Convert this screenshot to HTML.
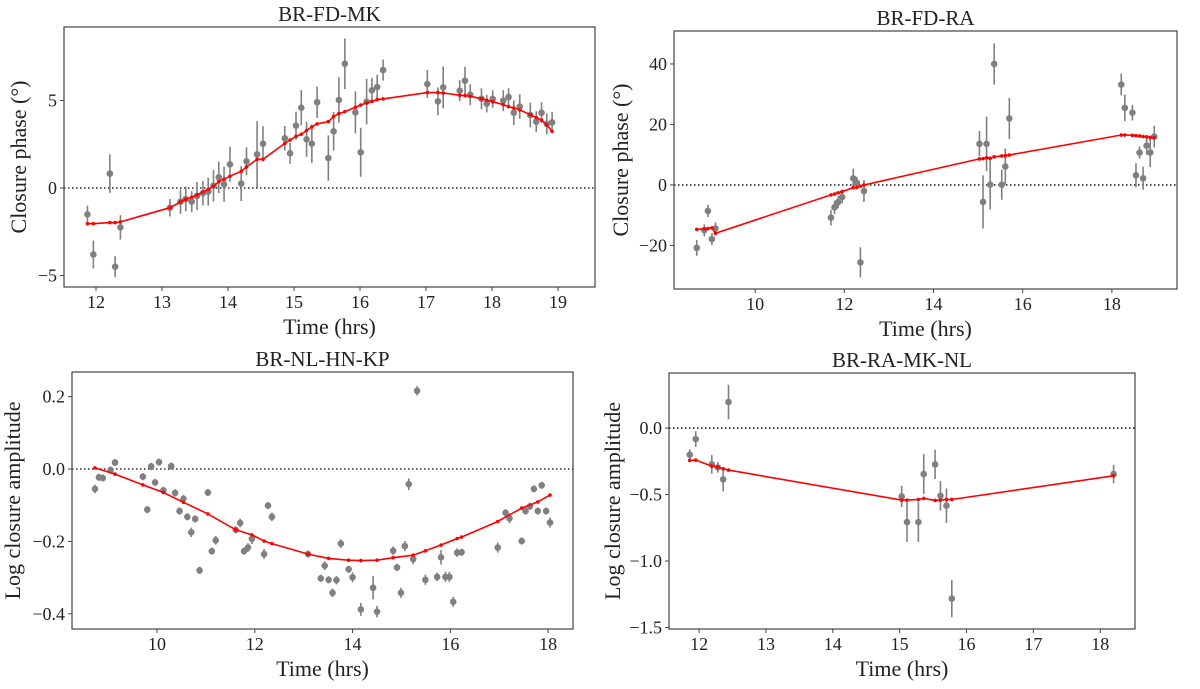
<!DOCTYPE html>
<html><head><meta charset="utf-8"><style>
body{margin:0;background:#fff;}
svg text{font-family:"Liberation Serif",serif;fill:#222;}
</style></head><body>
<svg id="fig" width="1200" height="684" xmlns="http://www.w3.org/2000/svg"></svg>
<script>
// Panel 1: BR-FD-MK
const p1Times=[11.87,11.96,12.21,12.29,12.37,13.12,13.28,13.36,13.45,13.53,13.62,13.70,13.78,13.86,13.94,14.03,14.20,14.28,14.44,14.53,14.86,14.94,15.03,15.11,15.19,15.27,15.35,15.52,15.60,15.68,15.77,15.93,16.01,16.10,16.18,16.26,16.35,17.02,17.18,17.26,17.51,17.59,17.67,17.84,17.92,18.01,18.17,18.25,18.33,18.42,18.58,18.67,18.75,18.83,18.91];
const p1Values=[-1.51,-3.8,0.82,-4.5,-2.25,-1.13,-0.78,-0.63,-0.78,-0.46,-0.30,-0.21,0.13,0.61,0.21,1.35,0.25,1.52,1.92,2.53,2.84,1.98,3.56,4.59,2.78,2.53,4.90,1.71,3.24,5.03,7.10,4.32,2.04,4.93,5.58,5.77,6.74,5.94,4.95,5.75,5.56,6.13,5.33,5.10,4.82,5.09,4.99,5.20,4.30,4.65,4.17,3.79,4.30,3.66,3.75];
const p1Errors=[0.5,0.8,1.1,0.6,0.7,0.5,0.7,0.7,0.6,0.8,0.7,0.8,0.9,0.9,1.0,1.0,1.0,0.8,1.9,1.0,0.7,0.6,0.8,1.0,1.0,1.1,0.9,1.3,1.1,1.3,1.45,1.2,1.4,1.3,0.7,0.7,0.6,0.8,0.8,1.2,0.6,0.8,0.6,0.6,0.5,0.5,0.6,0.5,0.7,0.7,0.7,0.6,0.6,0.6,0.6];
const p1Model=[-2.04,-2.04,-1.98,-1.98,-1.94,-1.13,-0.8,-0.65,-0.53,-0.4,-0.23,-0.08,0.1,0.36,0.5,0.67,0.95,1.2,1.64,1.64,2.55,2.74,2.95,3.07,3.29,3.49,3.66,3.79,4.08,4.25,4.36,4.61,4.74,4.86,4.95,5.05,5.09,5.45,5.45,5.43,5.3,5.28,5.24,5.1,5.01,4.93,4.76,4.65,4.57,4.46,4.19,4.02,3.88,3.6,3.24];
const p1XTicks=[12,13,14,15,16,17,18,19];
const p1YTicks=[-5,0,5];

// Panel 2: BR-FD-RA
const p2Times=[8.69,8.86,8.94,9.03,9.11,11.70,11.78,11.86,11.95,12.20,12.28,12.36,12.44,15.03,15.11,15.19,15.27,15.36,15.53,15.61,15.70,18.21,18.29,18.46,18.54,18.62,18.70,18.78,18.86,18.95];
const p2Values=[-20.8,-15.0,-8.6,-17.9,-14.4,-10.8,-7.4,-5.7,-4.0,2.2,0.7,-25.6,-2.0,13.6,-5.6,13.6,0.1,40.0,0.1,6.1,22.0,33.2,25.5,23.9,3.2,10.7,2.2,13.0,10.7,16.0];
const p2Errors=[2.6,2.0,2.0,2.0,2.0,2.6,2.2,2.0,2.0,3.2,2.0,5.0,3.6,4.2,8.8,9.0,8.2,6.8,5.0,6.0,6.8,3.6,4.4,2.6,4.0,2.0,3.8,3.0,4.8,3.6];
const p2Model=[-14.7,-14.5,-14.4,-14.2,-16.0,-3.3,-3.0,-2.6,-2.2,-0.9,-0.8,-0.4,0,8.6,8.7,9.0,8.8,9.3,9.6,9.7,9.9,16.5,16.5,16.4,16.3,16.2,16.0,15.9,15.7,15.6];
const p2XTicks=[10,12,14,16,18];
const p2YTicks=[-20,0,20,40];

// Panel 3: BR-NL-HN-KP
const p3Times=[8.73,8.81,8.89,9.05,9.14,9.71,9.80,9.88,9.96,10.04,10.13,10.29,10.37,10.46,10.54,10.62,10.70,10.78,10.87,11.04,11.12,11.20,11.61,11.70,11.78,11.86,11.94,12.19,12.27,12.35,13.09,13.35,13.43,13.51,13.59,13.67,13.76,13.92,14.00,14.17,14.42,14.50,14.83,14.91,14.99,15.07,15.15,15.24,15.32,15.49,15.73,15.81,15.90,15.98,16.06,16.14,16.23,16.97,17.13,17.21,17.46,17.54,17.63,17.71,17.79,17.87,17.96,18.04];
const p3Values=[-0.055,-0.023,-0.025,-0.003,0.018,-0.021,-0.112,0.007,-0.037,0.019,-0.059,0.008,-0.066,-0.116,-0.082,-0.132,-0.175,-0.138,-0.280,-0.065,-0.227,-0.197,-0.168,-0.149,-0.227,-0.217,-0.193,-0.235,-0.101,-0.132,-0.235,-0.302,-0.267,-0.306,-0.342,-0.307,-0.206,-0.277,-0.299,-0.388,-0.328,-0.394,-0.226,-0.272,-0.342,-0.213,-0.042,-0.249,0.216,-0.306,-0.298,-0.244,-0.298,-0.298,-0.367,-0.231,-0.230,-0.217,-0.121,-0.136,-0.199,-0.116,-0.103,-0.055,-0.116,-0.045,-0.116,-0.148];
const p3Errors=[0.012,0.01,0.01,0.01,0.01,0.01,0.01,0.01,0.01,0.01,0.01,0.01,0.01,0.01,0.01,0.01,0.013,0.01,0.01,0.01,0.01,0.012,0.01,0.012,0.01,0.012,0.014,0.014,0.01,0.012,0.01,0.01,0.012,0.01,0.012,0.012,0.012,0.01,0.014,0.018,0.032,0.016,0.012,0.01,0.014,0.014,0.016,0.014,0.013,0.014,0.012,0.02,0.014,0.014,0.014,0.012,0.01,0.014,0.01,0.014,0.01,0.01,0.01,0.01,0.01,0.01,0.01,0.014];
const p3ModelTimes=[8.73,9.14,9.71,10.13,10.54,11.04,11.61,11.94,12.19,12.35,13.09,13.51,13.92,14.17,14.50,14.83,15.24,15.49,15.81,16.14,16.23,16.97,17.46,17.79,18.04];
const p3Model=[0.003,-0.014,-0.044,-0.065,-0.092,-0.124,-0.168,-0.182,-0.199,-0.206,-0.235,-0.247,-0.252,-0.253,-0.252,-0.245,-0.238,-0.226,-0.210,-0.192,-0.188,-0.145,-0.108,-0.091,-0.072];
const p3XTicks=[10,12,14,16,18];
const p3YTicks=[-0.4,-0.2,0.0,0.2];

// Panel 4: BR-RA-MK-NL
const p4Times=[11.86,11.95,12.19,12.28,12.36,12.44,15.03,15.11,15.28,15.36,15.53,15.61,15.70,15.78,18.20];
const p4Values=[-0.20,-0.083,-0.273,-0.296,-0.386,0.196,-0.514,-0.707,-0.707,-0.346,-0.273,-0.509,-0.584,-1.282,-0.346];
const p4Errors=[0.04,0.06,0.07,0.04,0.09,0.13,0.08,0.15,0.15,0.15,0.11,0.11,0.13,0.14,0.07];
const p4Model=[-0.243,-0.241,-0.286,-0.293,-0.306,-0.316,-0.542,-0.542,-0.537,-0.529,-0.544,-0.542,-0.537,-0.537,-0.359];
const p4XTicks=[12,13,14,15,16,17,18];
const p4YTicks=[-1.5,-1.0,-0.5,0.0];

const NS='http://www.w3.org/2000/svg';
const svg=document.getElementById('fig');
function mk(tag,attrs,parent,txt){const e=document.createElementNS(NS,tag);for(const k in attrs)e.setAttribute(k,attrs[k]);if(txt!==undefined)e.textContent=txt;(parent||svg).appendChild(e);return e;}
function fmt(v,dec){let s=v.toFixed(dec);if(v<0)s='\u2212'+s.slice(1);return s;}

function panel(cfg){
  const g=mk('g',{});
  
  
  const X=v=>cfg.L+(v-cfg.x0)/(cfg.x1-cfg.x0)*(cfg.R-cfg.L);
  const Y=v=>cfg.B-(v-cfg.y0)/(cfg.y1-cfg.y0)*(cfg.B-cfg.T);
  // zero line
  const z=mk('line',{x1:cfg.L,x2:cfg.R,y1:Y(0),y2:Y(0),stroke:'#000','stroke-width':1.3,'stroke-dasharray':'1.5,2.5'},g);
  
  
  // error bars + points
  for(let i=0;i<cfg.t.length;i++){
    const eb=mk('line',{x1:X(cfg.t[i]),x2:X(cfg.t[i]),y1:Y(cfg.v[i]-cfg.e[i]),y2:Y(cfg.v[i]+cfg.e[i]),stroke:'#808080','stroke-width':1.6},g);
    
    
    const c=mk('circle',{cx:X(cfg.t[i]),cy:Y(cfg.v[i]),r:3.3,fill:'#808080'},g);
    
    
  }
  // model line
  const mt=cfg.mt||cfg.t;
  let d='';
  for(let i=0;i<mt.length;i++)d+=(i?'L':'M')+X(mt[i]).toFixed(1)+','+Y(cfg.m[i]).toFixed(1);
  const ml=mk('path',{d:d,fill:'none',stroke:'#ff0000','stroke-width':1.6},g);
  
  
  for(let i=0;i<mt.length;i++){
    const md=mk('circle',{cx:X(mt[i]),cy:Y(cfg.m[i]),r:1.8,fill:'#ff0000'},g);
    
    
  }
  // frame
  const fr=mk('rect',{x:cfg.L,y:cfg.T,width:cfg.R-cfg.L,height:cfg.B-cfg.T,fill:'none',stroke:'#444','stroke-width':1.2},g);
  
  
  for(const t of cfg.xt){
    mk('line',{x1:X(t),x2:X(t),y1:cfg.B,y2:cfg.B+4,stroke:'#444'},g);
    const tl=mk('text',{x:X(t),y:cfg.B+21,'text-anchor':'middle','font-size':18},g,String(t));
    
    
  }
  for(const t of cfg.yt){
    mk('line',{x1:cfg.L-4,x2:cfg.L,y1:Y(t),y2:Y(t),stroke:'#444'},g);
    const tl=mk('text',{x:cfg.L-7,y:Y(t)+6,'text-anchor':'end','font-size':18},g,fmt(t,cfg.dec));
    
    
  }
  const ti=mk('text',{x:(cfg.L+cfg.R)/2,y:cfg.T-6,'text-anchor':'middle','font-size':21},g,cfg.title);
  
  
  const xl=mk('text',{x:(cfg.L+cfg.R)/2,y:cfg.B+47,'text-anchor':'middle','font-size':22},g,'Time (hrs)');
  
  
  const yc=(cfg.T+cfg.B)/2;
  const yl=mk('text',{x:cfg.ylx,y:yc,'text-anchor':'middle','font-size':22,transform:`rotate(-90 ${cfg.ylx} ${yc})`},g,cfg.ylabel);
  
  
}

panel({name:'panel-br-fd-mk',title:'BR-FD-MK',L:64,R:595,T:27,B:287,x0:11.515,x1:19.56,y0:-5.66,y1:9.2,t:p1Times,v:p1Values,e:p1Errors,m:p1Model,xt:p1XTicks,yt:p1YTicks,dec:0,ylabel:'Closure phase (°)',ylx:26});
panel({name:'panel-br-fd-ra',title:'BR-FD-RA',L:674,R:1177,T:31,B:289,x0:8.18,x1:19.46,y0:-34.4,y1:50.9,t:p2Times,v:p2Values,e:p2Errors,m:p2Model,xt:p2XTicks,yt:p2YTicks,dec:0,ylabel:'Closure phase (°)',ylx:628});
panel({name:'panel-br-nl-hn-kp',title:'BR-NL-HN-KP',L:72,R:573,T:372,B:629,x0:8.26,x1:18.51,y0:-0.442,y1:0.268,t:p3Times,v:p3Values,e:p3Errors,mt:p3ModelTimes,m:p3Model,xt:p3XTicks,yt:p3YTicks,dec:1,ylabel:'Log closure amplitude',ylx:20});
panel({name:'panel-br-ra-mk-nl',title:'BR-RA-MK-NL',L:669,R:1135,T:373,B:629,x0:11.55,x1:18.52,y0:-1.511,y1:0.414,t:p4Times,v:p4Values,e:p4Errors,m:p4Model,xt:p4XTicks,yt:p4YTicks,dec:1,ylabel:'Log closure amplitude',ylx:620});
</script>
</body></html>
